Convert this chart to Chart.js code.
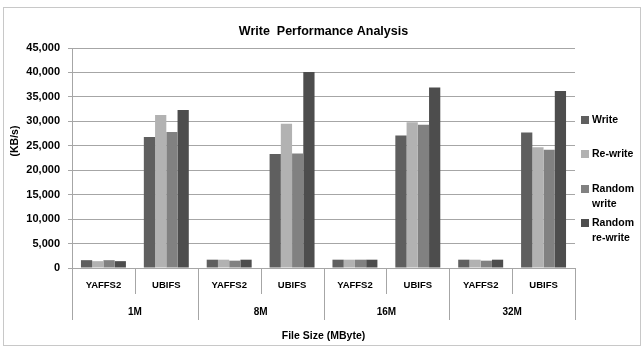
<!DOCTYPE html>
<html>
<head>
<meta charset="utf-8">
<title>Write Performance Analysis</title>
<script src="https://cdn.jsdelivr.net/npm/chart.js@4.4.1/dist/chart.umd.min.js"></script>
<style>
    html, body { margin: 0; padding: 0; background: #fff; }
    #wrap { width: 644px; height: 349px; position: relative; }
</style>
</head>
<body>
<div id="wrap"><canvas id="chart" width="644" height="349"></canvas></div>

<script>
    // chart data
    var categories = ['YAFFS2', 'UBIFS', 'YAFFS2', 'UBIFS', 'YAFFS2', 'UBIFS', 'YAFFS2', 'UBIFS'];
    var groups = ['1M', '8M', '16M', '32M'];
    var seriesNames = ['Write', 'Re-write', 'Random write', 'Random re-write'];
    var seriesColors = ['#5f5f5f', '#b2b2b2', '#818181', '#4d4d4d'];
    var writeData = [1600, 26800, 1700, 23300, 1700, 27100, 1700, 27700];
    var rewriteData = [1400, 31300, 1700, 29500, 1700, 29800, 1700, 24700];
    var randomWriteData = [1600, 27800, 1500, 23400, 1700, 29300, 1500, 24200];
    var randomRewriteData = [1400, 32300, 1700, 40100, 1700, 36900, 1700, 36200];
    var yTicks = [0, 5000, 10000, 15000, 20000, 25000, 30000, 35000, 40000, 45000];

    var lineGray = '#a6a6a6';
    var boldFont = function (size) { return 'bold ' + size + 'px "Liberation Sans", Arial, sans-serif'; };

    //draws title, axis titles, the two level x labels and the legend
    var decor = {
        id: 'decor',
        beforeDraw: function (chart) {
            var ctx = chart.ctx;
            ctx.save();
            ctx.fillStyle = '#fff';
            ctx.fillRect(0, 0, chart.width, chart.height);
            ctx.strokeStyle = '#c8c8c8';
            ctx.lineWidth = 1;
            ctx.strokeRect(3.5, 7.5, 637, 338);
            ctx.restore();
        },
        afterDraw: function (chart) {
            var ctx = chart.ctx;
            var area = chart.chartArea;
            var x = chart.scales.x;
            var cw = (area.right - area.left) / categories.length;
            ctx.save();
            ctx.fillStyle = '#000';
            ctx.textAlign = 'center';
            ctx.textBaseline = 'middle';

            // title
            ctx.font = boldFont(12.5);
            ctx.fillText('Write  Performance Analysis', (area.left + area.right) / 2, 32);

            // y axis title
            ctx.save();
            ctx.translate(15, 141);
            ctx.rotate(-Math.PI / 2);
            ctx.font = boldFont(10.5);
            ctx.fillText('(KB/s)', 0, 0);
            ctx.restore();

            // separators below the axis
            ctx.strokeStyle = lineGray;
            ctx.lineWidth = 1;
            for (var k = 0; k <= categories.length; k++) {
                var bx = Math.round(area.left + k * cw) + 0.5;
                ctx.beginPath();
                ctx.moveTo(bx, area.bottom);
                ctx.lineTo(bx, k % 2 === 0 ? 320 : 294);
                ctx.stroke();
            }

            // category labels
            ctx.font = boldFont(9.5);
            categories.forEach(function (c, i) {
                ctx.fillText(c, x.getPixelForValue(i), 285);
            });

            // group labels
            ctx.font = boldFont(10);
            groups.forEach(function (g, i) {
                ctx.fillText(g, area.left + (2 * i + 1) * cw, 312);
            });

            // x axis title
            ctx.font = boldFont(10.5);
            ctx.fillText('File Size (MByte)', (area.left + area.right) / 2, 336);

            // legend on the right
            var legendY = [120, 154, 189, 223];
            ctx.textAlign = 'left';
            ctx.font = boldFont(10.5);
            seriesNames.forEach(function (name, i) {
                ctx.fillStyle = seriesColors[i];
                ctx.fillRect(581, legendY[i] - 4, 8, 8);
                ctx.fillStyle = '#000';
                name.split(' ').forEach(function (line, j) {
                    ctx.fillText(line, 592, legendY[i] + j * 15);
                });
            });
            ctx.restore();
        }
    };

    var ctx = document.getElementById('chart').getContext('2d');
    var myChart = new Chart(ctx, {
        type: 'bar',
        data: {
            labels: categories,
            datasets: [
                { label: seriesNames[0], data: writeData, backgroundColor: seriesColors[0] },
                { label: seriesNames[1], data: rewriteData, backgroundColor: seriesColors[1] },
                { label: seriesNames[2], data: randomWriteData, backgroundColor: seriesColors[2] },
                { label: seriesNames[3], data: randomRewriteData, backgroundColor: seriesColors[3] }
            ]
        },
        options: {
            responsive: false,
            animation: false,
            devicePixelRatio: 1,
            categoryPercentage: 0.715,
            barPercentage: 1.0,
            layout: { padding: { left: 0, right: 69, top: 48, bottom: 0 } },
            plugins: {
                legend: { display: false },
                title: { display: false },
                tooltip: { enabled: false }
            },
            scales: {
                x: {
                    grid: { display: false },
                    border: { display: false },
                    ticks: { display: false },
                    afterFit: function (scale) { scale.height = 81; }
                },
                y: {
                    min: 0,
                    max: 45000,
                    afterBuildTicks: function (scale) {
                        scale.ticks = yTicks.map(function (v) { return { value: v }; });
                    },
                    afterFit: function (scale) { scale.width = 72; },
                    grid: { color: lineGray, tickLength: 4 },
                    border: { color: lineGray },
                    ticks: {
                        padding: 8,
                        color: '#000',
                        font: { family: '"Liberation Sans", Arial, sans-serif', size: 11, weight: 'bold' },
                        callback: function (v) { return v.toLocaleString('en-US'); }
                    }
                }
            }
        },
        plugins: [decor]
    });
</script>
</body>
</html>
